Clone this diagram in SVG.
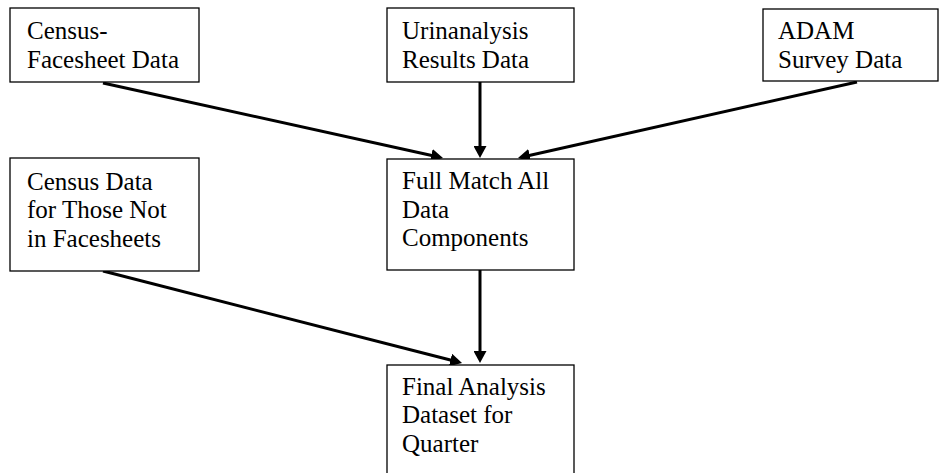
<svg xmlns="http://www.w3.org/2000/svg" width="939" height="473" viewBox="0 0 939 473">
<style>
.box{fill:#fff;stroke:#000;stroke-width:1.3}
.t{font-family:"Liberation Serif","Times New Roman",serif;font-size:25px;fill:#000}
.c{stroke:#000;stroke-width:3;fill:none;marker-end:url(#ah)}
</style>
<defs>
<marker id="ah" markerUnits="userSpaceOnUse" markerWidth="13" markerHeight="13" refX="4" refY="6.5" orient="auto">
<path d="M0,0 L12,6.5 L0,13 z" fill="#000"/>
</marker>
</defs>
<rect width="939" height="473" fill="#fff"/>
<g id="connectors">
<line class="c" x1="103" y1="83" x2="435.2" y2="156.3"/>
<line class="c" x1="480" y1="82" x2="480" y2="150"/>
<line class="c" x1="857" y1="82" x2="525.8" y2="156.2"/>
<line class="c" x1="103" y1="271" x2="454.3" y2="361"/>
<line class="c" x1="480" y1="270" x2="480" y2="355"/>
</g>
<g id="census-facesheet">
<rect class="box" x="10" y="8" width="189" height="74"/>
<text class="t" x="27" y="39">Census-</text>
<text class="t" x="27" y="68">Facesheet Data</text>
</g>
<g id="urinanalysis">
<rect class="box" x="387" y="8" width="187" height="74"/>
<text class="t" x="402" y="39">Urinanalysis</text>
<text class="t" x="402" y="68">Results Data</text>
</g>
<g id="adam">
<rect class="box" x="763" y="9" width="175" height="72"/>
<text class="t" x="778" y="38.5">ADAM</text>
<text class="t" x="778" y="68">Survey Data</text>
</g>
<g id="census-not-facesheets">
<rect class="box" x="10" y="158" width="189" height="113"/>
<text class="t" x="27" y="190">Census Data</text>
<text class="t" x="27" y="218">for Those Not</text>
<text class="t" x="27" y="247">in Facesheets</text>
</g>
<g id="full-match">
<rect class="box" x="387" y="159" width="187" height="111"/>
<text class="t" x="402" y="189">Full Match All</text>
<text class="t" x="402" y="217.5">Data</text>
<text class="t" x="402" y="246">Components</text>
</g>
<g id="final-dataset">
<rect class="box" x="387" y="365" width="187" height="120"/>
<text class="t" x="402" y="395">Final Analysis</text>
<text class="t" x="402" y="423">Dataset for</text>
<text class="t" x="402" y="452">Quarter</text>
</g>
</svg>
